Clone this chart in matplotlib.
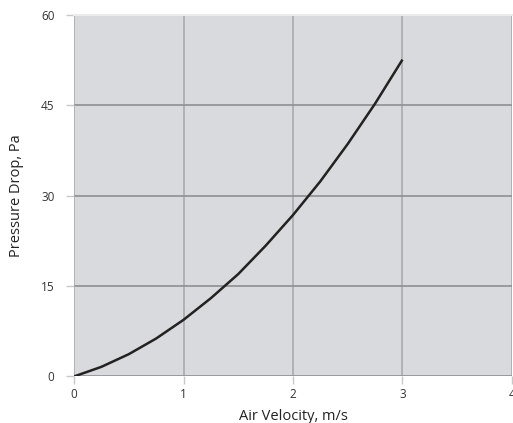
import numpy as np
import matplotlib
matplotlib.use("Agg")
import matplotlib.pyplot as plt

plt.rcParams["font.family"] = ["Open Sans", "DejaVu Sans"]

velocity = [0, 0.25, 0.5, 0.75, 1.0, 1.25, 1.5, 1.75, 2.0, 2.25, 2.5, 2.75, 3.0]
pressure = [0, 1.6, 3.7, 6.3, 9.4, 13.0, 17.0, 21.7, 26.8, 32.4, 38.6, 45.3, 52.6]

x_ticks = [0, 1, 2, 3, 4]
y_ticks = [0, 15, 30, 45, 60]

fig = plt.figure(figsize=(5.13, 4.23), dpi=100)
ax = fig.add_axes([0.1443, 0.110, 0.8537, 0.8545])
ax.set_facecolor("#d9dadd")

ax.plot(velocity, pressure, color="#222222", linewidth=1.8,
        solid_joinstyle="round", solid_capstyle="butt", zorder=3)

ax.set_xlim(0, 4)
ax.set_ylim(0, 60)
ax.set_xticks(x_ticks)
ax.set_yticks(y_ticks)
ax.set_xticklabels([str(t) for t in x_ticks], fontsize=8.5, color="#333333")
ax.set_yticklabels([str(t) for t in y_ticks], fontsize=8.5, color="#333333")
ax.tick_params(axis="both", length=6, width=1, color="#c8c8c8", pad=2)
ax.tick_params(axis="y", pad=8)

ax.xaxis.grid(True, color="#a9aaad", linewidth=1.2)
ax.yaxis.grid(True, color="#8e8f92", linewidth=1.2)
ax.set_axisbelow(True)

for s in ("left", "right", "bottom"):
    ax.spines[s].set_visible(False)
ax.spines["top"].set_color("#ececec")
ax.spines["top"].set_linewidth(1.5)

ax.set_xlabel("Air Velocity, m/s", fontsize=10.5, color="#222222", labelpad=6)
ax.set_ylabel("Pressure Drop, Pa", fontsize=10.5, color="#222222", labelpad=12)

fig.savefig("out.png", dpi=100)
